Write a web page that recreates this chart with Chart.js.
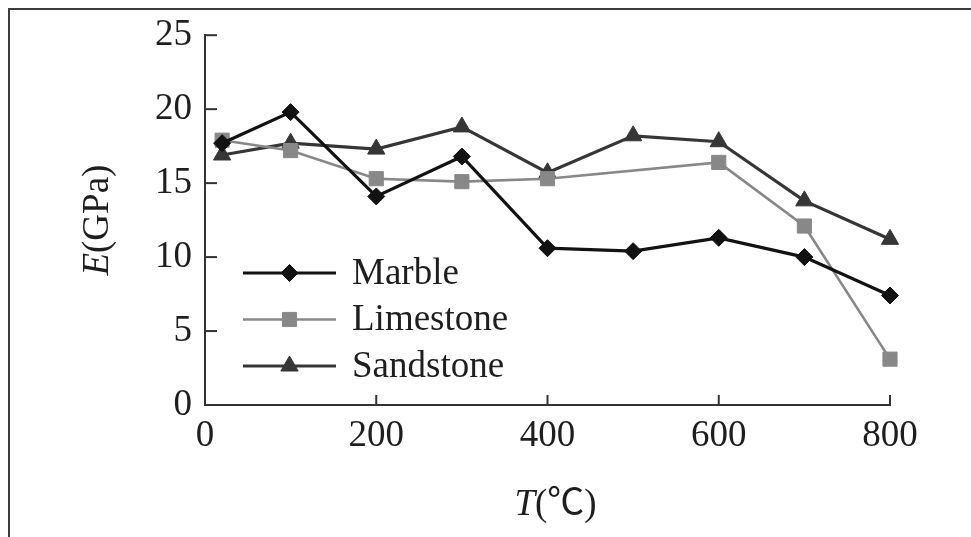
<!DOCTYPE html>
<html>
<head>
<meta charset="utf-8">
<script src="https://cdn.jsdelivr.net/npm/chart.js@4.4.0/dist/chart.umd.min.js"></script>
<style>
  html, body { margin: 0; padding: 0; background: #fff; }
  #wrap { position: relative; width: 971px; height: 537px; overflow: hidden; }
  #frame { position: absolute; left: 8px; top: 8px; right: -4px; bottom: -4px;
           border-left: 2px solid #3c3c3c; border-top: 2px solid #3c3c3c; pointer-events: none; }
  canvas { position: absolute; left: 0; top: 0; }
</style>
</head>
<body>
<div id="wrap">
  <canvas id="chart" width="971" height="537"></canvas>
  <div id="frame"></div>
</div>
<script>
// temperatures (°C) and elastic modulus (GPa)
const temps = [20, 100, 200, 300, 400, 500, 600, 700, 800];
const marble = [17.7, 19.8, 14.1, 16.8, 10.6, 10.4, 11.3, 10.0, 7.4];
const limestone = [17.9, 17.2, 15.3, 15.1, 15.3, null, 16.4, 12.1, 3.1];
const sandstone = [16.9, 17.7, 17.3, 18.8, 15.7, 18.2, 17.8, 13.8, 11.2];
const seriesNames = ["Marble", "Limestone", "Sandstone"];
const xTicks = [0, 200, 400, 600, 800];
const yTicks = [0, 5, 10, 15, 20, 25];

const serif = "'Liberation Serif', 'Times New Roman', 'Noto Sans CJK SC', serif";
const textColor = "#1e1e1e";
const fontSize = 37;

function toPoints(values) {
    return temps.map((t, i) => ({ x: t, y: values[i] }));
}

const styles = [
    { color: "#121212", width: 3.2, pointStyle: "rectRot", radius: 8.5 },
    { color: "#888888", width: 2.6, pointStyle: "rect", radius: 10 },
    { color: "#363636", width: 3.2, pointStyle: "triangle", radius: 10 }
];

const datasets = [marble, limestone, sandstone].map((vals, i) => ({
    label: seriesNames[i],
    data: toPoints(vals),
    borderColor: styles[i].color,
    backgroundColor: styles[i].color,
    borderWidth: styles[i].width,
    pointStyle: styles[i].pointStyle,
    pointRadius: styles[i].radius,
    pointBorderWidth: 1,
    tension: 0,
    spanGaps: true,
    clip: false
}));

// small ticks pointing into the plot
const innerTicks = {
    id: "innerTicks",
    afterDraw(chart) {
        const ctx = chart.ctx;
        const xs = chart.scales.x, ys = chart.scales.y;
        ctx.save();
        ctx.strokeStyle = "#333";
        ctx.lineWidth = 2;
        xs.ticks.forEach(t => {
            const px = xs.getPixelForValue(t.value);
            ctx.beginPath();
            ctx.moveTo(px, xs.top);
            ctx.lineTo(px, xs.top - 10);
            ctx.stroke();
        });
        ys.ticks.forEach(t => {
            const py = ys.getPixelForValue(t.value);
            ctx.beginPath();
            ctx.moveTo(ys.right, py);
            ctx.lineTo(ys.right + 12, py);
            ctx.stroke();
        });
        ctx.restore();
    }
};

// axis titles with italic symbol
function drawMixed(ctx, parts, cx, cy) {
    let total = 0;
    parts.forEach(p => { ctx.font = p.font; total += ctx.measureText(p.text).width; });
    let x = cx - total / 2;
    parts.forEach(p => {
        ctx.font = p.font;
        ctx.fillText(p.text, x, cy);
        x += ctx.measureText(p.text).width;
    });
}

const axisTitles = {
    id: "axisTitles",
    afterDraw(chart) {
        const ctx = chart.ctx;
        const area = chart.chartArea;
        ctx.save();
        ctx.fillStyle = textColor;
        ctx.textBaseline = "middle";
        ctx.textAlign = "left";
        drawMixed(ctx, [
            { text: "T", font: "italic " + fontSize + "px " + serif },
            { text: "(℃)", font: fontSize + "px " + serif }
        ], (area.left + area.right) / 2 + 8, 505);
        ctx.translate(98, (area.top + area.bottom) / 2);
        ctx.rotate(-Math.PI / 2);
        drawMixed(ctx, [
            { text: "E", font: "italic " + fontSize + "px " + serif },
            { text: "(GPa)", font: fontSize + "px " + serif }
        ], 0, 0);
        ctx.restore();
    }
};

// legend with line + marker, inside plot
const lineLegend = {
    id: "lineLegend",
    afterDraw(chart) {
        const ctx = chart.ctx;
        const x0 = 243, len = 93, y0 = 273, gap = 46.5;
        ctx.save();
        chart.data.datasets.forEach((ds, i) => {
            const y = y0 + i * gap;
            ctx.strokeStyle = ds.borderColor;
            ctx.fillStyle = ds.backgroundColor;
            ctx.lineWidth = ds.borderWidth;
            ctx.beginPath();
            ctx.moveTo(x0, y);
            ctx.lineTo(x0 + len, y);
            ctx.stroke();
            ctx.lineWidth = 1;
            Chart.helpers.drawPoint(ctx, {
                pointStyle: ds.pointStyle, radius: ds.pointRadius, rotation: 0, borderWidth: 1
            }, x0 + len / 2, y);
            ctx.fillStyle = textColor;
            ctx.font = fontSize + "px " + serif;
            ctx.textBaseline = "middle";
            ctx.fillText(ds.label, x0 + len + 16, y + 1);
        });
        ctx.restore();
    }
};

new Chart(document.getElementById("chart"), {
    type: "line",
    data: { datasets },
    options: {
        responsive: false,
        animation: false,
        layout: { padding: { left: 0, top: 35, right: 81, bottom: 0 } },
        plugins: { legend: { display: false }, tooltip: { enabled: false } },
        scales: {
            x: {
                type: "linear",
                min: 0,
                max: 800,
                afterBuildTicks: s => { s.ticks = xTicks.map(v => ({ value: v })); },
                afterFit: s => { s.height = 132; },
                grid: { display: false, drawTicks: false },
                border: { display: true, color: "#333", width: 2 },
                ticks: { color: textColor, padding: 9, maxRotation: 0, font: { family: serif, size: fontSize } }
            },
            y: {
                min: 0,
                max: 25,
                afterBuildTicks: s => { s.ticks = yTicks.map(v => ({ value: v })); },
                afterFit: s => { s.width = 205; },
                grid: { display: false, drawTicks: false },
                border: { display: true, color: "#333", width: 2 },
                ticks: { color: textColor, padding: 13, font: { family: serif, size: fontSize } }
            }
        }
    },
    plugins: [innerTicks, axisTitles, lineLegend]
});
</script>
</body>
</html>
